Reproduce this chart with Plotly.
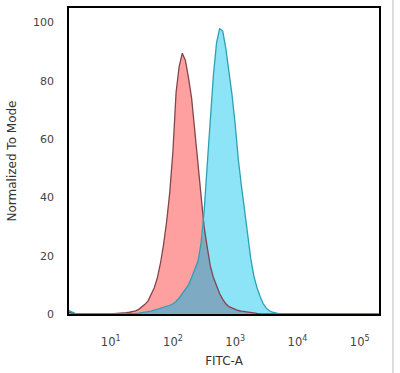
import plotly.graph_objects as go

# log10 of FITC-A intensity (common grid for both histograms)
log_x = [0.33, 0.38, 0.45, 1.00, 1.05, 1.10, 1.15, 1.20, 1.25, 1.30, 1.35, 1.40, 1.45,
         1.50, 1.55, 1.60, 1.65, 1.70, 1.75, 1.80, 1.85, 1.90, 1.95, 2.00, 2.05,
         2.10, 2.15, 2.20, 2.25, 2.30, 2.35, 2.40, 2.45, 2.50, 2.55, 2.60, 2.65,
         2.70, 2.75, 2.80, 2.85, 2.90, 2.95, 3.00, 3.05, 3.10, 3.15, 3.20, 3.25,
         3.30, 3.35, 3.40, 3.45, 3.50, 3.55, 3.60, 3.65, 3.70, 3.75, 5.31]
# isotype control (red)
control = [0.6, 0.3, 0, 0, 0.05, 0.1, 0.2, 0.3, 0.45, 0.6, 0.8, 1.1, 1.6,
           2.4, 3.3, 4.5, 6.5, 9, 12.5, 17.5, 24, 32, 42, 56, 76,
           85, 89.5, 87, 81, 74, 63, 52, 40, 30, 23, 16.5, 12.5,
           9.5, 7, 5, 3.5, 2.5, 2, 1.5, 1.2, 1.0, 0.8, 0.6, 0.45,
           0.3, 0.2, 0.1, 0.05, 0, 0, 0, 0, 0, 0, 0]
# stained sample (blue)
sample = [1.2, 0.6, 0, 0, 0, 0, 0, 0, 0, 0.05, 0.1, 0.2, 0.3,
          0.4, 0.6, 0.8, 1.0, 1.3, 1.6, 1.9, 2.2, 2.5, 3.0, 3.5, 4.3,
          5.5, 7, 8.5, 10, 12.5, 15, 18, 24, 35, 51, 68, 82,
          93, 98, 97, 91, 83, 75, 65, 53, 44, 35, 27, 19,
          13, 9, 6, 3.5, 2, 1.1, 0.6, 0.3, 0.1, 0, 0]

tick_vals = [10, 100, 1000, 10000, 100000]
tick_text = ["10<sup>1</sup>", "10<sup>2</sup>", "10<sup>3</sup>", "10<sup>4</sup>", "10<sup>5</sup>"]
y_ticks = [0, 20, 40, 60, 80, 100]

x = [10 ** v for v in log_x]
overlap = [min(a, b) for a, b in zip(control, sample)]

fig = go.Figure()
fig.add_trace(go.Scatter(x=x, y=control, mode="lines", fill="tozeroy",
                         fillcolor="rgb(255,160,160)", line=dict(width=0),
                         hoverinfo="skip", showlegend=False))
fig.add_trace(go.Scatter(x=x, y=sample, mode="lines", fill="tozeroy",
                         fillcolor="rgb(142,228,247)", line=dict(width=0),
                         hoverinfo="skip", showlegend=False))
fig.add_trace(go.Scatter(x=x, y=overlap, mode="lines", fill="tozeroy",
                         fillcolor="rgb(126,170,195)", line=dict(width=0),
                         hoverinfo="skip", showlegend=False))
fig.add_trace(go.Scatter(x=x, y=control, mode="lines",
                         line=dict(color="rgb(130,70,75)", width=1.3),
                         showlegend=False))
fig.add_trace(go.Scatter(x=x, y=sample, mode="lines",
                         line=dict(color="rgb(45,160,180)", width=1.3),
                         showlegend=False))

fig.add_shape(type="line", xref="paper", yref="paper",
              x0=1.045, x1=1.045, y0=-0.2, y1=1.03,
              line=dict(color="rgb(190,190,190)", width=1))

fig.update_layout(
    width=400, height=373,
    margin=dict(l=69, r=21, t=6, b=59),
    paper_bgcolor="white", plot_bgcolor="white",
    font=dict(family="DejaVu Sans", size=11, color="#444"),
    xaxis=dict(type="log", range=[0.33, 5.31], tickvals=tick_vals, ticktext=tick_text,
               showgrid=False, zeroline=False, showline=True, mirror=True,
               linecolor="black", linewidth=1.5, ticks="outside", ticklen=16,
               tickcolor="rgba(0,0,0,0)", tickfont=dict(size=11.5),
               title=dict(text="FITC-A", font=dict(size=12, color="#333"), standoff=9)),
    yaxis=dict(range=[0, 105], tickvals=y_ticks, showgrid=False, zeroline=False,
               showline=True, mirror=True, linecolor="black", linewidth=1.5,
               ticks="outside", ticklen=11, tickcolor="rgba(0,0,0,0)",
               title=dict(text="Normalized To Mode", font=dict(size=12, color="#333"), standoff=14)),
)

fig.write_html("out.html")
